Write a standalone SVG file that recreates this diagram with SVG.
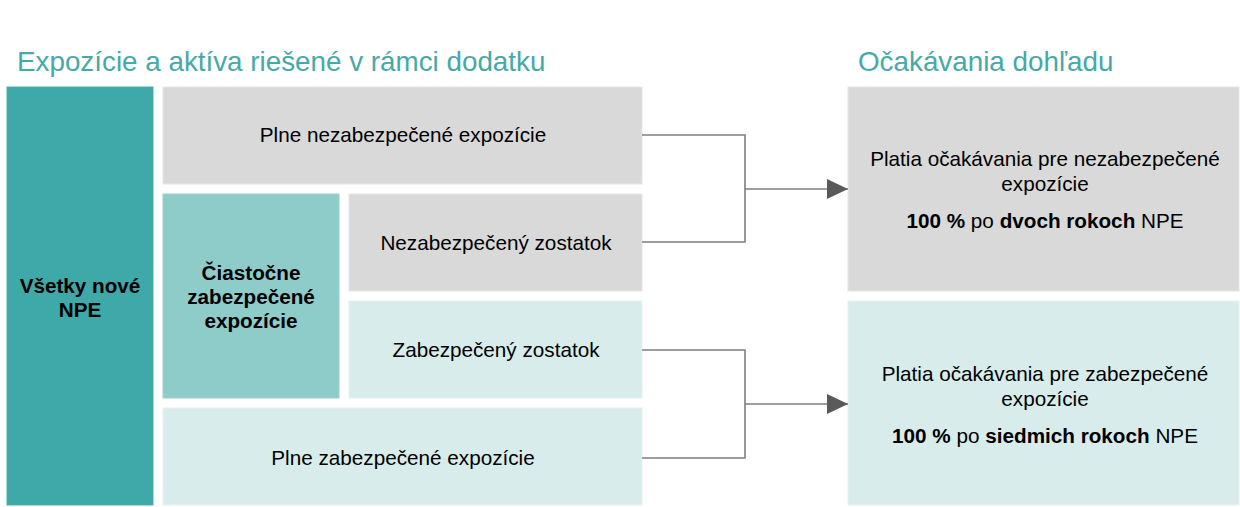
<svg xmlns="http://www.w3.org/2000/svg" width="1240" height="507" viewBox="0 0 1240 507">
<style>
text{font-family:"Liberation Sans",Arial,sans-serif;fill:#000}
.title{font-size:27.8px;fill:#45AAA7}
.t{font-size:20.7px;text-anchor:middle}
.b{font-weight:bold}
.grey{fill:#D9D9D9;stroke:#E6E6E6;stroke-width:1}
.dark{fill:#3FA8A8;stroke:#4DB0AF;stroke-width:1}
.mid{fill:#8ECCCA;stroke:#9AD1CF;stroke-width:1}
.light{fill:#D8EDEB;stroke:#E3F2F0;stroke-width:1}
.con{fill:none;stroke:#7F7F7F;stroke-width:1.6}
</style>
<defs>
<marker id="arr" markerUnits="userSpaceOnUse" markerWidth="22" markerHeight="20" refX="21" refY="10" orient="auto">
<path d="M0,0 L21,10 L0,20 Z" fill="#595959"/>
</marker>
</defs>
<rect width="1240" height="507" fill="#fff"/>
<text class="title" x="17" y="71">Expozície a aktíva riešené v rámci dodatku</text>
<text class="title" x="858" y="71">Očakávania dohľadu</text>

<g id="node-vsetky">
<rect class="dark" x="7" y="87" width="146" height="418"/>
<text class="t b" x="80" y="293">Všetky nové</text>
<text class="t b" x="80" y="317">NPE</text>
</g>
<g id="node-plne-nezab">
<rect class="grey" x="163" y="87" width="479" height="97"/>
<text class="t" x="403" y="142">Plne nezabezpečené expozície</text>
</g>
<g id="node-ciastocne">
<rect class="mid" x="163" y="194" width="176" height="204"/>
<text class="t b" x="251" y="280">Čiastočne</text>
<text class="t b" x="251" y="304">zabezpečené</text>
<text class="t b" x="251" y="328">expozície</text>
</g>
<g id="node-nezab-zost">
<rect class="grey" x="349" y="194" width="293" height="97"/>
<text class="t" x="496" y="250">Nezabezpečený zostatok</text>
</g>
<g id="node-zab-zost">
<rect class="light" x="349" y="301" width="293" height="97"/>
<text class="t" x="496" y="357">Zabezpečený zostatok</text>
</g>
<g id="node-plne-zab">
<rect class="light" x="163" y="408" width="479" height="97"/>
<text class="t" x="403" y="465">Plne zabezpečené expozície</text>
</g>
<g id="node-ocak-nezab">
<rect class="grey" x="848" y="87" width="391" height="204"/>
<text class="t" x="1045" y="166">Platia očakávania pre nezabezpečené</text>
<text class="t" x="1045" y="191">expozície</text>
<text class="t" x="1045" y="228"><tspan class="b">100 %</tspan> po <tspan class="b">dvoch rokoch</tspan> NPE</text>
</g>
<g id="node-ocak-zab">
<rect class="light" x="848" y="301" width="391" height="204"/>
<text class="t" x="1045" y="381">Platia očakávania pre zabezpečené</text>
<text class="t" x="1045" y="406">expozície</text>
<text class="t" x="1045" y="443"><tspan class="b">100 %</tspan> po <tspan class="b">siedmich rokoch</tspan> NPE</text>
</g>

<g id="connectors">
<path class="con" d="M642,135 H745 V242 H642"/>
<path class="con" d="M745,189 H848" marker-end="url(#arr)"/>
<path class="con" d="M642,350 H745 V458 H642"/>
<path class="con" d="M745,404 H848" marker-end="url(#arr)"/>
</g>
</svg>
